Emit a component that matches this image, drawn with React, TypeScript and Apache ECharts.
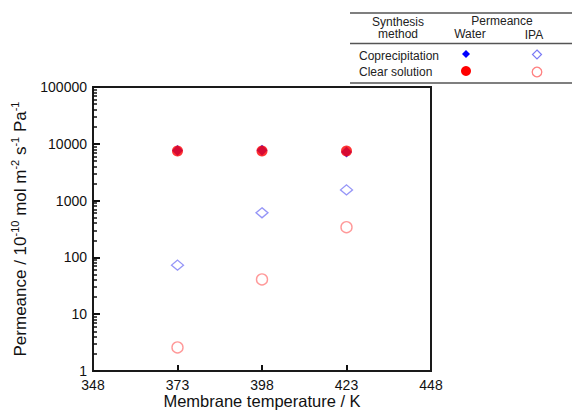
import React, { useEffect, useRef } from "react";
import * as echarts from "echarts";

// ---- data ----
const temperatures = [373, 398, 423];
const waterCoprecipitation = [7600, 7700, 7200];
const waterClearSolution = [7500, 7500, 7500];
const ipaCoprecipitation = [73, 610, 1540];
const ipaClearSolution = [2.6, 41, 340];

// ---- axes ----
const xTickLabels = [348, 373, 398, 423, 448];
const xTickMarks = [373, 398, 423];
const yTickLabels = [1, 10, 100, 1000, 10000, 100000];
const minorMantissas = [2, 3, 4, 5, 6, 7, 8, 9];
const minorDecades = [1, 10, 100, 1000, 10000];
const yMinorTicks: number[] = [];
minorDecades.forEach((d) => minorMantissas.forEach((m) => yMinorTicks.push(m * d)));

const FONT = '"Liberation Sans", Arial, sans-serif';

const pairs = (ys: number[]) => temperatures.map((t, i) => [t, ys[i]]);

export default function App() {
  const ref = useRef<HTMLDivElement>(null);
  useEffect(() => {
    if (!ref.current) return;
    const chart = echarts.init(ref.current, undefined, { renderer: "svg" });
    const txt = (text: string, x: number, y: number, align = "center") => ({
      type: "text",
      x,
      y,
      style: {
        text,
        font: `12px ${FONT}`,
        fill: "#222",
        textAlign: align,
        textVerticalAlign: "middle",
        lineHeight: 12.5,
      },
    });
    const hline = (y: number) => ({
      type: "line",
      shape: { x1: 350, y1: y, x2: 572, y2: y },
      style: { stroke: "#555", lineWidth: 1.5 },
    });
    chart.setOption({
      animation: false,
      textStyle: { fontFamily: FONT },
      grid: {
        left: 93,
        top: 87,
        width: 338,
        height: 284,
        show: true,
        borderColor: "#1a1a1a",
        borderWidth: 2,
        backgroundColor: "transparent",
        containLabel: false,
        outerBoundsMode: "none",
      },
      xAxis: {
        type: "value",
        min: 348,
        max: 448,
        name: "Membrane temperature / K",
        nameLocation: "middle",
        nameGap: 22,
        nameMoveOverlap: false,
        nameTextStyle: { fontSize: 16.5, color: "#111", fontFamily: FONT, lineHeight: 16 },
        axisLine: { show: false },
        splitLine: { show: false },
        axisTick: {
          show: true,
          inside: true,
          length: 6,
          customValues: xTickMarks,
          lineStyle: { color: "#111", width: 2 },
        },
        axisLabel: {
          customValues: xTickLabels,
          fontSize: 14,
          lineHeight: 14,
          color: "#111",
          margin: 7,
          fontFamily: FONT,
        },
      },
      yAxis: [
        {
          type: "log",
          logBase: 10,
          min: 1,
          max: 100000,
          position: "left",
          name:
            "{a|Permeance / 10}{s|-10}{a| mol m}{s|-2}{a| s}{s|-1}{a| Pa}{s|-1}",
          nameLocation: "middle",
          nameGap: 62,
          nameTextStyle: {
            color: "#111",
            fontFamily: FONT,
            rich: {
              a: { fontSize: 17, lineHeight: 20, verticalAlign: "bottom", color: "#111", fontFamily: FONT },
              s: { fontSize: 11, lineHeight: 11, verticalAlign: "top", color: "#111", fontFamily: FONT },
            },
          },
          axisLine: { show: false },
          splitLine: { show: false },
          axisTick: {
            show: true,
            inside: true,
            length: 7,
            lineStyle: { color: "#111", width: 2 },
          },
          axisLabel: {
            fontSize: 14,
            color: "#111",
            margin: 6,
            fontFamily: FONT,
            formatter: (v: number) => {
              const r = Math.round(v);
              return yTickLabels.indexOf(r) >= 0 ? String(r) : "";
            },
          },
        },
        {
          type: "log",
          logBase: 10,
          min: 1,
          max: 100000,
          position: "left",
          axisLine: { show: false },
          splitLine: { show: false },
          axisLabel: { show: false },
          axisTick: {
            show: true,
            inside: true,
            length: 4,
            customValues: yMinorTicks,
            lineStyle: { color: "#111", width: 1.5 },
          },
        },
      ],
      graphic: [
        hline(13),
        hline(43.5),
        hline(83),
        txt("Synthesis\nmethod", 398, 28),
        txt("Permeance", 502, 21),
        txt("Water", 470, 34),
        txt("IPA", 534, 35),
        txt("Coprecipitation", 359, 56, "left"),
        txt("Clear solution", 359, 72, "left"),
        {
          type: "polygon",
          shape: { points: [[466, 50], [470, 54], [466, 58], [462, 54]] },
          style: { fill: "#0000ff" },
        },
        {
          type: "polygon",
          shape: { points: [[537, 50], [541.5, 54.5], [537, 59], [532.5, 54.5]] },
          style: { fill: "none", stroke: "#7a7af5", lineWidth: 1.2 },
        },
        { type: "circle", shape: { cx: 466, cy: 71, r: 5 }, style: { fill: "#ff0000" } },
        {
          type: "circle",
          shape: { cx: 537, cy: 72, r: 4.8 },
          style: { fill: "none", stroke: "#ff8080", lineWidth: 1.3 },
        },
      ],
      series: [
        {
          name: "Water Coprecipitation",
          type: "scatter",
          data: pairs(waterCoprecipitation),
          symbol: "diamond",
          symbolSize: [11, 11],
          itemStyle: { color: "#0000ff" },
          z: 2,
        },
        {
          name: "Water Clear solution",
          type: "scatter",
          data: pairs(waterClearSolution),
          symbol: "circle",
          symbolSize: 11,
          itemStyle: { color: "#ff0000" },
          z: 3,
        },
        {
          name: "IPA Coprecipitation",
          type: "scatter",
          data: pairs(ipaCoprecipitation),
          symbol: "diamond",
          symbolSize: [12, 10],
          itemStyle: { color: "rgba(0,0,0,0)", borderColor: "#7a7af5", borderWidth: 1.3 },
          z: 3,
        },
        {
          name: "IPA Clear solution",
          type: "scatter",
          data: pairs(ipaClearSolution),
          symbol: "circle",
          symbolSize: 11,
          itemStyle: { color: "rgba(0,0,0,0)", borderColor: "#ff8080", borderWidth: 1.4 },
          z: 3,
        },
      ],
    });
    return () => chart.dispose();
  }, []);
  return (
    <div
      ref={ref}
      style={{ position: "fixed", left: 0, top: 0, width: 572, height: 410, background: "#fff" }}
    />
  );
}
